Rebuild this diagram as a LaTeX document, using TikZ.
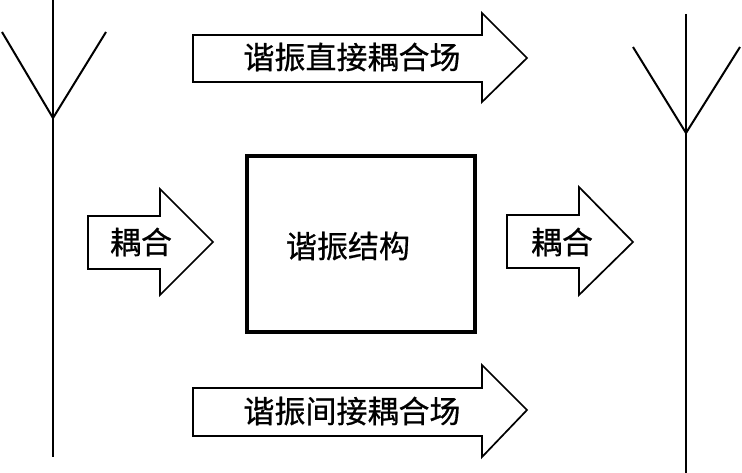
\documentclass[tikz,border=0pt]{standalone}
\usepackage{fontspec}
\newfontfamily\cjk[FakeBold=0.6]{Noto Sans CJK SC}
\begin{document}
\begin{tikzpicture}[x=1pt,y=-1pt,
  ant/.style={line width=2pt, line join=miter},
  arr/.style={line width=1.7pt, fill=white, line join=miter},
  lbl/.style={font=\cjk\fontsize{31}{36}\selectfont, inner sep=0pt},
  boxst/.style={line width=3.2pt}]
\useasboundingbox (0,0) rectangle (742,473);
% left antenna
\draw[ant] (53,0) -- (53,457);
\draw[ant] (2,32) -- (53,118) -- (106,32);
% right antenna
\draw[ant] (686,14) -- (686,473);
\draw[ant] (633,47) -- (686,133) -- (740,47);
% top arrow
\draw[arr] (193,35) -- (482,35) -- (482,13) -- (527,58) -- (482,102) -- (482,82) -- (193,82) -- cycle;
\node[lbl] (t1) at (352,57) {谐振直接耦合场};
% bottom arrow
\draw[arr] (193,388) -- (482,388) -- (482,365) -- (527,410) -- (482,457) -- (482,436) -- (193,436) -- cycle;
\node[lbl] (t2) at (352,411) {谐振间接耦合场};
% left small arrow
\draw[arr] (88,216) -- (160,216) -- (160,189) -- (213,242) -- (160,295) -- (160,269) -- (88,269) -- cycle;
\node[lbl] (t3) at (141,242) {耦合};
% right small arrow
\draw[arr] (507,215) -- (579,215) -- (579,187) -- (633,242) -- (579,295) -- (579,268) -- (507,268) -- cycle;
\node[lbl] (t4) at (562,242) {耦合};
% resonant structure box
\draw[boxst] (247,156) rectangle (475,332);
\node[lbl] (t5) at (348,246) {谐振结构};
\end{tikzpicture}
\end{document}
